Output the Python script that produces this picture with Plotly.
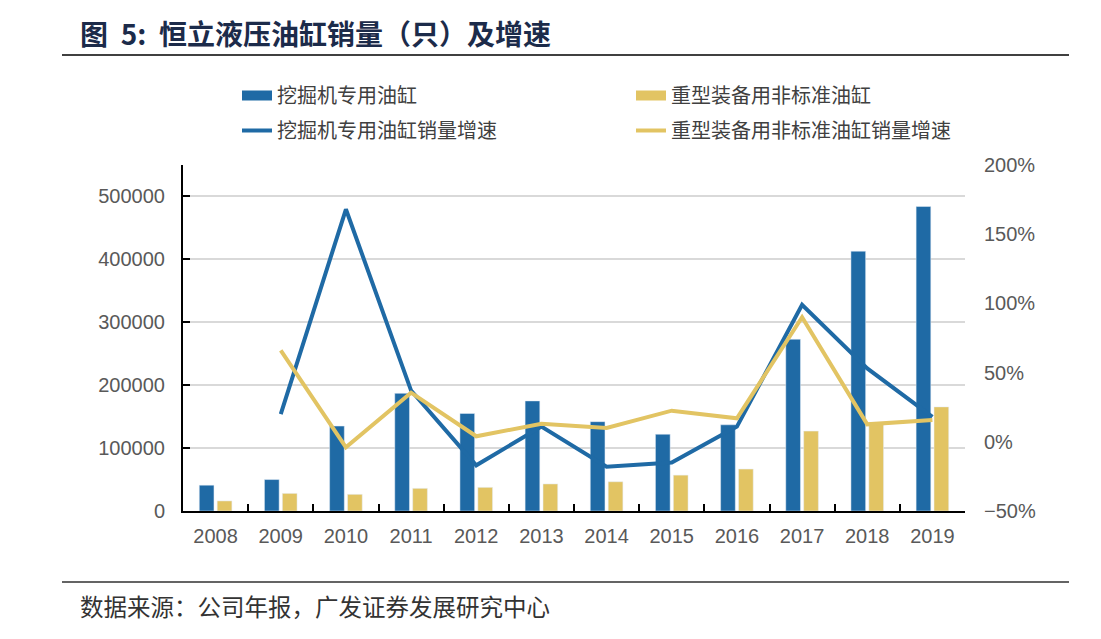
import plotly.graph_objects as go

years = ["2008", "2009", "2010", "2011", "2012", "2013", "2014", "2015", "2016", "2017", "2018", "2019"]
excavator_units = [41000, 50000, 135000, 187000, 155000, 175000, 142000, 122000, 137000, 273000, 413000, 484000]
heavy_units = [16000, 28000, 26500, 36000, 37600, 43000, 46500, 57000, 66700, 127000, 141000, 165500]
excavator_growth = [None, 20, 168, 37, -17, 11, -18, -15, 11, 99, 53, 18]
heavy_growth = [None, 66, -4, 35.5, 4, 13, 10, 22.5, 17, 90, 12.6, 15.8]

names = ["挖掘机专用油缸", "重型装备用非标准油缸", "挖掘机专用油缸销量增速", "重型装备用非标准油缸销量增速"]
title_text = "图\u00a0\u00a05:\u00a0\u00a0恒立液压油缸销量（只）及增速"
source_text = "数据来源：公司年报，广发证券发展研究中心"

BLUE = "#1f6aa5"
GOLD = "#e2c463"
CJK = "Noto Sans CJK SC"
LAT = "Liberation Sans, Arial"

fig = go.Figure()
fig.add_trace(go.Bar(x=years, y=excavator_units, name=names[0], marker_color=BLUE, showlegend=False, legendgroup="a"))
fig.add_trace(go.Bar(x=years, y=heavy_units, name=names[1], marker_color=GOLD, showlegend=False, legendgroup="b"))
# legend entries for bars (wide thick symbols like the reference)
fig.add_trace(go.Scatter(x=[None], y=[None], mode="lines", name=names[0], line=dict(color=BLUE, width=10),
                         legendgroup="a", legend="legend"))
fig.add_trace(go.Scatter(x=[None], y=[None], mode="lines", name=names[1], line=dict(color=GOLD, width=10),
                         legendgroup="b", legend="legend2"))
fig.add_trace(go.Scatter(x=years, y=excavator_growth, name=names[2], mode="lines", yaxis="y2",
                         line=dict(color=BLUE, width=4), connectgaps=False, legend="legend3"))
fig.add_trace(go.Scatter(x=years, y=heavy_growth, name=names[3], mode="lines", yaxis="y2",
                         line=dict(color=GOLD, width=4), connectgaps=False, legend="legend4"))

OFF = 8  # page body margin
W, H = 1101 - OFF, 639 - OFF
L, T = 183 - OFF, 165 - OFF
R = W - (965 - OFF)
B = H - (511 - OFF)
pw, ph = W - L - R, H - T - B

def px(x):  # reference page x -> paper
    return (x - OFF - L) / pw

def py(y):  # reference page y -> paper
    return (H - B - (y - OFF)) / ph

def cx(x):
    return (x - OFF) / W

def cy(y):
    return 1 - (y - OFF) / H

def leg(x, y):
    return dict(orientation="h", xref="paper", yref="paper",
                x=px(x), xanchor="left", y=py(y), yanchor="top",
                font=dict(family=CJK, size=20, color="#404040"),
                bgcolor="rgba(0,0,0,0)")

fig.update_layout(
    width=W, height=H,
    margin=dict(l=L, r=R, t=T, b=B, autoexpand=False),
    paper_bgcolor="white", plot_bgcolor="white",
    barmode="group", bargap=0.45, bargroupgap=0.18,
    font=dict(family=LAT, color="#595959", size=20),
    title=dict(text=title_text, x=cx(80), xanchor="left", xref="container",
               y=cy(35), yanchor="middle", yref="container",
               font=dict(family=CJK, size=28, color="#1c2b4a", weight="bold")),
    legend=leg(237, 76),
    legend2=leg(631, 76),
    legend3=leg(237, 111),
    legend4=leg(631, 111),
    xaxis=dict(type="category", showline=True, linecolor="black", linewidth=2,
               ticks="inside", tickson="boundaries", ticklen=7, tickwidth=2, tickcolor="black",
               showgrid=False, tickfont=dict(family=LAT, size=20, color="#595959"),
               ticklabelstandoff=6),
    yaxis=dict(range=[0, 550000], dtick=100000, tick0=0, showline=True, linecolor="black", linewidth=2,
               ticks="inside", ticklen=7, tickwidth=2, tickcolor="black",
               showgrid=True, gridcolor="#d9d9d9", gridwidth=1.5, zeroline=False,
               tickformat="d", tickfont=dict(family=LAT, size=20, color="#595959"),
               ticklabelstandoff=12),
    yaxis2=dict(range=[-50, 200], dtick=50, tick0=-50, overlaying="y", side="right",
                showline=False, ticks="", showgrid=False, zeroline=False,
                ticksuffix="%", tickfont=dict(family=LAT, size=20, color="#595959"),
                ticklabelstandoff=18),
    shapes=[
        dict(type="line", xref="paper", yref="paper", x0=px(62), x1=px(1069), y0=py(55), y1=py(55),
             line=dict(color="#404040", width=2)),
        dict(type="line", xref="paper", yref="paper", x0=px(62), x1=px(1069), y0=py(582), y1=py(582),
             line=dict(color="#303030", width=1.5)),
    ],
    annotations=[
        dict(text=source_text, xref="paper", yref="paper", x=px(78), y=py(606),
             xanchor="left", yanchor="middle", showarrow=False,
             font=dict(family=CJK, size=23.5, color="#333333")),
    ],
)

fig.write_html("out.html")
